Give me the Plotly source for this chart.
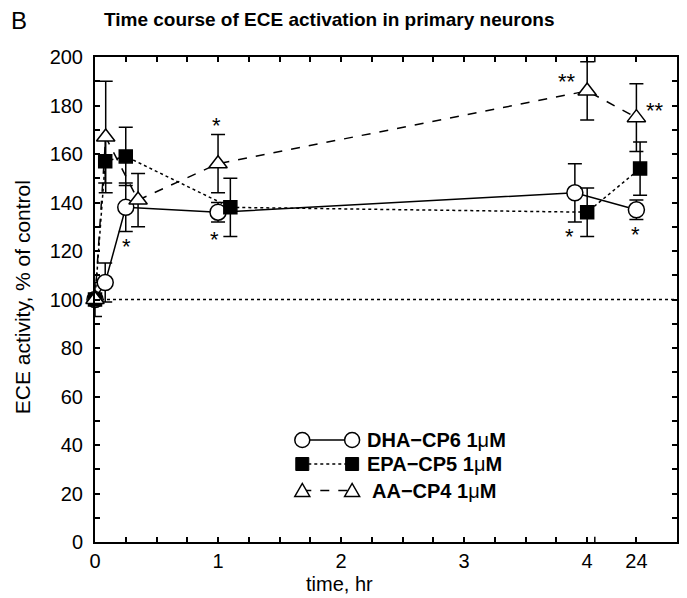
import plotly.graph_objects as go

# ---------------- data (time in hours, activity in % of control) ----------------
dha_t = [0, 0.083, 0.25, 1.0, 3.9, 24.0]
dha_y = [100, 107, 138, 136, 144, 137]
dha_e = [7, 8, 10, 4, 12, 4]

epa_t = [0, 0.083, 0.25, 1.1, 4.0, 24.03]
epa_y = [100, 157, 159, 138, 136, 154]
epa_e = [None, 9, 12, 12, 10, 11]

aa_t = [0, 0.087, 0.35, 1.0, 4.0, 24.0]
aa_y = [100, 167, 141, 156, 186, 175]
aa_e = [None, 23, 11, 12, 12, 14]

# significance marks: (time, y, text)
star_t = [0.257, 0.99, 0.97, 3.86, 3.84, 23.99, 24.15]
star_y = [124, 174, 127, 128, 192, 129, 180]
star_txt = ["*", "*", "*", "*", "**", "*", "**"]

series_names = ["DHA\u2212CP6 1", "EPA\u2212CP5 1", "AA\u2212CP4 1"]

# ---------------- broken time axis ----------------
BREAK_OFFSET = 19.6      # 24 h is drawn at 4.4 on the broken axis
X_MAX = 4.73


def to_axis(ts):
    return [t if t <= 4 else t - BREAK_OFFSET for t in ts]


FONT = "Liberation Sans, Arial, sans-serif"
OFF = 8                       # page body margin
W, H = 687 - OFF, 598 - OFF
L, R, T, B = 95 - OFF, 8, 57 - OFF, 56
PW, PH = W - L - R, H - T - B


def pxx(px):          # page pixel -> paper
    return (px - OFF - L) / PW


def pxy(py):
    return (H - B - (py - OFF)) / PH


fig = go.Figure()

line_styles = [
    dict(t=dha_t, y=dha_y, e=dha_e, dash="solid", symbol="circle", fill="white", size=16),
    dict(t=epa_t, y=epa_y, e=epa_e, dash="dot", symbol="square", fill="black", size=13),
    dict(t=aa_t, y=aa_y, e=aa_e, dash="dash", symbol="triangle-up", fill="white", size=16),
]
for s in line_styles:
    fig.add_trace(go.Scatter(
        x=to_axis(s["t"]), y=s["y"], mode="lines+markers", showlegend=False,
        line=dict(color="black", width=1.5, dash=s["dash"]),
        marker=dict(symbol=s["symbol"], size=s["size"], color=s["fill"],
                    line=dict(color="black", width=1.5)),
        error_y=dict(type="data", array=s["e"], color="black", thickness=1.5, width=7),
        cliponaxis=False,
    ))

# stars
for t, y, txt in zip(star_t, star_y, star_txt):
    fig.add_annotation(x=to_axis([t])[0], y=y, text=txt, showarrow=False,
                       font=dict(family=FONT, size=22, color="black"),
                       xanchor="center", yanchor="middle", yshift=-5)

# x ticks: minor every 0.25 h up to 4, plus 24
xt_vals = [i * 0.25 for i in range(17)] + to_axis([24])
xt_text = []
for v in xt_vals[:-1]:
    xt_text.append(str(int(v)) if abs(v - round(v)) < 1e-9 else "")
xt_text.append("24")

yt_vals = list(range(0, 201, 10))
yt_text = [str(v) if v % 20 == 0 else "" for v in yt_vals]

fig.update_xaxes(range=[0, X_MAX], tickvals=xt_vals, ticktext=xt_text,
                 ticks="inside", ticklen=5, tickwidth=1.5, tickcolor="black",
                 showline=True, linewidth=2, linecolor="black", mirror="ticks",
                 showgrid=False, zeroline=False,
                 tickfont=dict(family=FONT, size=20, color="black"))
fig.update_yaxes(range=[0, 200], tickvals=yt_vals, ticktext=yt_text,
                 ticks="inside", ticklen=5, tickwidth=1.5, tickcolor="black",
                 showline=True, linewidth=2, linecolor="black", mirror="ticks",
                 showgrid=False, zeroline=False, ticklabelstandoff=6,
                 tickfont=dict(family=FONT, size=20, color="black"))

# control level
fig.add_shape(type="line", xref="paper", x0=0, x1=1, yref="y", y0=100, y1=100,
              line=dict(color="black", width=1.5, dash="dot"), layer="below")

# axis break gaps (bottom and top)
for (y0, y1, ty0, ty1) in [(-3, 1.6, 0, 2.2), (198.4, 203, 197.8, 200)]:
    fig.add_shape(type="rect", xref="x", yref="y", x0=4.012, x1=4.056, y0=y0, y1=y1,
                  fillcolor="white", line=dict(width=0), layer="above")
    fig.add_shape(type="line", xref="x", yref="y", x0=4.062, x1=4.062, y0=ty0, y1=ty1,
                  line=dict(color="black", width=1.5), layer="above")

# ---------------- hand-drawn legend ----------------
leg_rows = [440, 464, 490.5]
leg_x = [303, 353]
leg_text_x = [366, 366, 371]
dashes = ["solid", "dot", "dash"]
for i, py in enumerate(leg_rows):
    fig.add_shape(type="line", xref="paper", yref="paper",
                  x0=pxx(leg_x[0]), x1=pxx(leg_x[1]), y0=pxy(py), y1=pxy(py),
                  line=dict(color="black", width=1.5, dash=dashes[i]), layer="above")
    for cx in leg_x:
        if i == 0:
            fig.add_shape(type="circle", xref="paper", yref="paper",
                          xsizemode="pixel", ysizemode="pixel",
                          xanchor=pxx(cx), yanchor=pxy(py), x0=-7.5, x1=7.5, y0=-7.5, y1=7.5,
                          fillcolor="white", line=dict(color="black", width=1.5), layer="above")
        elif i == 1:
            fig.add_shape(type="rect", xref="paper", yref="paper",
                          xsizemode="pixel", ysizemode="pixel",
                          xanchor=pxx(cx), yanchor=pxy(py), x0=-6.5, x1=6.5, y0=-6.5, y1=6.5,
                          fillcolor="black", line=dict(color="black", width=1), layer="above")
        else:
            fig.add_shape(type="path", xref="paper", yref="paper",
                          xsizemode="pixel", ysizemode="pixel",
                          xanchor=pxx(cx), yanchor=pxy(py),
                          path="M -7.5,-6 L 7.5,-6 L 0,7 Z",
                          fillcolor="white", line=dict(color="black", width=1.5), layer="above")
    fig.add_annotation(xref="paper", yref="paper", x=pxx(leg_text_x[i]), y=pxy(py),
                       xanchor="left", yanchor="middle", showarrow=False,
                       text="<b>" + series_names[i] + "</b>\u03bc<b>M</b>",
                       font=dict(family=FONT, size=20, color="black"))

# ---------------- titles ----------------
fig.add_annotation(xref="paper", yref="paper", x=pxx(9), y=pxy(20), xanchor="left",
                   yanchor="middle", showarrow=False, text="B",
                   font=dict(family=FONT, size=24, color="black"))
fig.add_annotation(xref="paper", yref="paper", x=pxx(102), y=pxy(19), xanchor="left",
                   yanchor="middle", showarrow=False,
                   text="<b>Time course of ECE activation in primary neurons</b>",
                   font=dict(family=FONT, size=19, color="black"))
fig.add_annotation(xref="paper", yref="paper", x=pxx(22), y=pxy(297), xanchor="center",
                   yanchor="middle", showarrow=False, textangle=-90,
                   text="ECE activity, % of control",
                   font=dict(family=FONT, size=21, color="black"))
fig.add_annotation(xref="paper", yref="paper", x=pxx(340), y=pxy(584), xanchor="center",
                   yanchor="middle", showarrow=False, text="time, hr",
                   font=dict(family=FONT, size=20, color="black"))

fig.update_layout(width=W, height=H, margin=dict(l=L, r=R, t=T, b=B),
                  paper_bgcolor="white", plot_bgcolor="white",
                  font=dict(family=FONT, color="black"))

fig.write_html("out.html")
